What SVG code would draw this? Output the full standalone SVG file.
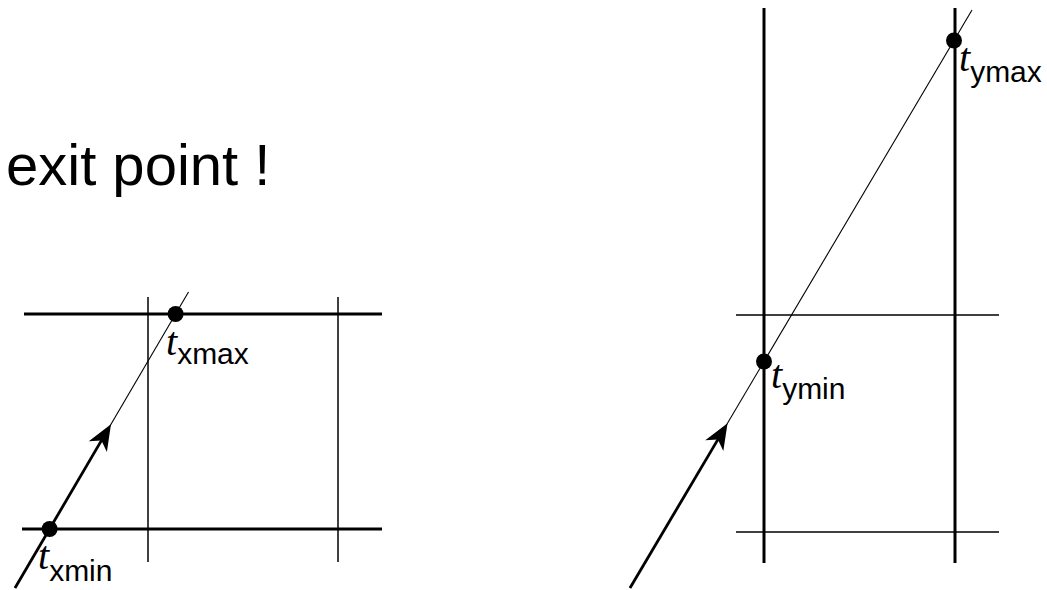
<svg xmlns="http://www.w3.org/2000/svg" width="1047" height="590" viewBox="0 0 1047 590">
<style>
.thick{stroke:#000;stroke-width:3;fill:none}
.thin{stroke:#000;stroke-width:1.5;fill:none}
.ray{stroke:#000;stroke-width:1.1;fill:none}
.rayb{stroke:#000;stroke-width:2.8;fill:none;marker-end:url(#ah)}
.dot{fill:#000}
.lbl{font-family:"Liberation Sans",Arial,sans-serif;font-size:30px;fill:#000}
.t{font-family:"Liberation Serif",serif;font-style:italic;font-size:40px}
.title{font-family:"Liberation Sans",Arial,sans-serif;font-size:58px;fill:#000}
</style>
<defs>
<marker id="ah" markerUnits="userSpaceOnUse" viewBox="-14 -12 32 24" refX="0" refY="0" markerWidth="32" markerHeight="24" orient="auto">
<path d="M15,0 L-11,-10.5 L-4,0 L-11,10.5 Z" fill="#000"/>
</marker>
</defs>
<rect width="1047" height="590" fill="#fff"/>
<text id="title" class="title" x="6" y="185">exit point !</text>
<g id="left-grid">
<line class="thick" x1="24" y1="314" x2="382" y2="314"/>
<line class="thick" x1="22" y1="529" x2="382" y2="529"/>
<line class="thin" x1="148" y1="297" x2="148" y2="562"/>
<line class="thin" x1="338" y1="297" x2="338" y2="562"/>
</g>
<g id="right-grid">
<line class="thick" x1="764" y1="8" x2="764" y2="563"/>
<line class="thick" x1="955" y1="8" x2="955" y2="563"/>
<line class="thin" x1="736" y1="315" x2="999" y2="315"/>
<line class="thin" x1="736" y1="532" x2="999" y2="532"/>
</g>
<g id="connectors">
<line class="ray" x1="15" y1="588" x2="188.5" y2="292"/>
<line class="rayb" x1="15" y1="588" x2="103.4" y2="437.1"/>
<line class="ray" x1="630" y1="588" x2="972" y2="10"/>
<line class="rayb" x1="630" y1="588" x2="719.9" y2="436.1"/>
</g>
<g id="txmin">
<circle class="dot" cx="49.6" cy="529" r="8"/>
<text class="lbl" x="38" y="569"><tspan class="t">t</tspan><tspan dy="12">xmin</tspan></text>
</g>
<g id="txmax">
<circle class="dot" cx="175.6" cy="314" r="8"/>
<text class="lbl" x="166" y="355"><tspan class="t">t</tspan><tspan dy="9">xmax</tspan></text>
</g>
<g id="tymin">
<circle class="dot" cx="764" cy="361.5" r="8"/>
<text class="lbl" x="771" y="388"><tspan class="t">t</tspan><tspan dy="11">ymin</tspan></text>
</g>
<g id="tymax">
<circle class="dot" cx="954" cy="40.5" r="8"/>
<text class="lbl" x="959" y="71"><tspan class="t">t</tspan><tspan dy="11">ymax</tspan></text>
</g>
</svg>
